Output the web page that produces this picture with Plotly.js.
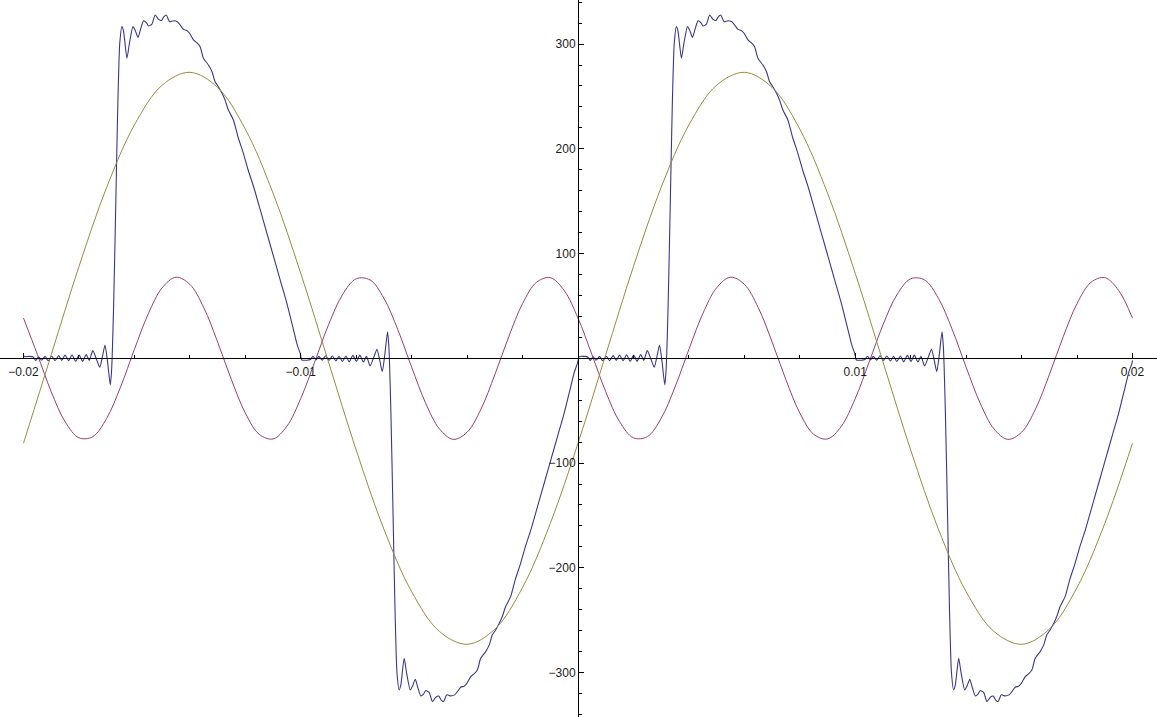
<!DOCTYPE html>
<html>
<head>
<meta charset="utf-8">
<script src="https://cdn.plot.ly/plotly-3.0.1.min.js"></script>
<style>
  html, body { margin: 0; padding: 0; background: #ffffff; }
  #chart { width: 1157px; height: 717px; }
</style>
</head>
<body>
<div id="chart"></div>
<script>
// ---- data ----
// olive curve (fundamental)
var oliveT = [-0.020, -0.019, -0.018, -0.017, -0.016, -0.015, -0.014, -0.013, -0.012, -0.011,
  -0.010, -0.009, -0.008, -0.007, -0.006, -0.005, -0.004, -0.003, -0.002, -0.001,
  0.000, 0.001, 0.002, 0.003, 0.004, 0.005, 0.006, 0.007, 0.008, 0.009,
  0.010, 0.011, 0.012, 0.013, 0.014, 0.015, 0.016, 0.017, 0.018, 0.019, 0.020];
var oliveV = [-81.1, 3.4, 87.6, 163.2, 222.8, 260.7, 273.0, 258.6, 218.8, 157.7,
  81.1, -3.4, -87.6, -163.2, -222.8, -260.7, -273.0, -258.6, -218.8, -157.7,
  -81.1, 3.4, 87.6, 163.2, 222.8, 260.7, 273.0, 258.6, 218.8, 157.7,
  81.1, -3.4, -87.6, -163.2, -222.8, -260.7, -273.0, -258.6, -218.8, -157.7, -81.1];

// purple curve (third harmonic)
var purpleT = [-0.0200, -0.0195, -0.0190, -0.0185, -0.0180, -0.0175, -0.0170, -0.0165, -0.0160, -0.0155,
  -0.0150, -0.0145, -0.0140, -0.0135, -0.0130, -0.0125, -0.0120, -0.0115, -0.0110, -0.0105,
  -0.0100, -0.0095, -0.0090, -0.0085, -0.0080, -0.0075, -0.0070, -0.0065, -0.0060, -0.0055,
  -0.0050, -0.0045, -0.0040, -0.0035, -0.0030, -0.0025, -0.0020, -0.0015, -0.0010, -0.0005,
  0.0000, 0.0005, 0.0010, 0.0015, 0.0020, 0.0025, 0.0030, 0.0035, 0.0040, 0.0045,
  0.0050, 0.0055, 0.0060, 0.0065, 0.0070, 0.0075, 0.0080, 0.0085, 0.0090, 0.0095,
  0.0100, 0.0105, 0.0110, 0.0115, 0.0120, 0.0125, 0.0130, 0.0135, 0.0140, 0.0145,
  0.0150, 0.0155, 0.0160, 0.0165, 0.0170, 0.0175, 0.0180, 0.0185, 0.0190, 0.0195, 0.0200];
var purpleV = [38.4, 3.7, -31.9, -60.5, -75.9, -74.8, -57.3, -27.4, 8.5, 42.5,
  67.3, 77.4, 70.6, 48.5, 15.7, -20.5, -52.2, -72.5, -77.0, -64.8,
  -38.4, -3.7, 31.9, 60.5, 75.9, 74.8, 57.3, 27.4, -8.5, -42.5,
  -67.3, -77.4, -70.6, -48.5, -15.7, 20.5, 52.2, 72.5, 77.0, 64.8,
  38.4, 3.7, -31.9, -60.5, -75.9, -74.8, -57.3, -27.4, 8.5, 42.5,
  67.3, 77.4, 70.6, 48.5, 15.7, -20.5, -52.2, -72.5, -77.0, -64.8,
  -38.4, -3.7, 31.9, 60.5, 75.9, 74.8, 57.3, 27.4, -8.5, -42.5,
  -67.3, -77.4, -70.6, -48.5, -15.7, 20.5, 52.2, 72.5, 77.0, 64.8, 38.4];

// blue curve (distorted current with ringing)
var blueT = [
  // lead-in ringing
  -0.02000, -0.01996, -0.01978, -0.01965, -0.01956, -0.01945, -0.01935, -0.01922, -0.01911, -0.01898,
  -0.01886, -0.01873, -0.01862, -0.01850, -0.01837, -0.01825, -0.01812, -0.01799, -0.01787, -0.01774,
  -0.01763, -0.01750, -0.01736, -0.01725, -0.01715, -0.01706, -0.01697, -0.01687,
  // first positive lobe + ringing
  -0.01682, -0.01675, -0.01667, -0.01660, -0.01653, -0.01645, -0.01639, -0.01627, -0.01618, -0.01605,
  -0.01597, -0.01587, -0.01577, -0.01567, -0.01557, -0.01549, -0.01537, -0.01525, -0.01513, -0.01502,
  -0.01494, -0.01485, -0.01473, -0.01459, -0.01445, -0.01435, -0.01423, -0.01411, -0.01401, -0.01387,
  -0.01375, -0.01363, -0.01351, -0.01333, -0.01320, -0.01309, -0.01297, -0.01284, -0.01273, -0.01261,
  -0.01243, -0.01226, -0.01207, -0.01190, -0.01170, -0.01146, -0.01122, -0.01098, -0.01074, -0.01050,
  -0.01026, -0.01013, -0.01002, -0.00996,
  -0.00978, -0.00965, -0.00956, -0.00945, -0.00935, -0.00922, -0.00911, -0.00898, -0.00886, -0.00873,
  -0.00862, -0.00850, -0.00837, -0.00825, -0.00812, -0.00799, -0.00787, -0.00774, -0.00763, -0.00750,
  -0.00736, -0.00725, -0.00715, -0.00706, -0.00697, -0.00687,
  // first negative lobe + ringing
  -0.00682, -0.00675, -0.00667, -0.00660, -0.00653, -0.00645, -0.00639, -0.00627, -0.00618, -0.00605,
  -0.00597, -0.00587, -0.00577, -0.00567, -0.00557, -0.00549, -0.00537, -0.00525, -0.00513, -0.00502,
  -0.00494, -0.00485, -0.00473, -0.00459, -0.00445, -0.00435, -0.00423, -0.00411, -0.00401, -0.00387,
  -0.00375, -0.00363, -0.00351, -0.00333, -0.00320, -0.00309, -0.00297, -0.00284, -0.00273, -0.00261,
  -0.00243, -0.00226, -0.00207, -0.00190, -0.00170, -0.00146, -0.00122, -0.00098, -0.00074, -0.00050,
  -0.00026, -0.00013, -0.00002, 0.00004,
  0.00022, 0.00035, 0.00044, 0.00055, 0.00065, 0.00078, 0.00089, 0.00102, 0.00114, 0.00127,
  0.00138, 0.00150, 0.00163, 0.00175, 0.00188, 0.00201, 0.00213, 0.00226, 0.00237, 0.00250,
  0.00264, 0.00275, 0.00285, 0.00294, 0.00303, 0.00313,
  // second positive lobe + ringing
  0.00318, 0.00325, 0.00333, 0.00340, 0.00347, 0.00355, 0.00361, 0.00373, 0.00382, 0.00395,
  0.00403, 0.00413, 0.00423, 0.00433, 0.00443, 0.00451, 0.00463, 0.00475, 0.00487, 0.00498,
  0.00506, 0.00515, 0.00527, 0.00541, 0.00555, 0.00565, 0.00577, 0.00589, 0.00599, 0.00613,
  0.00625, 0.00637, 0.00649, 0.00667, 0.00680, 0.00691, 0.00703, 0.00716, 0.00727, 0.00739,
  0.00757, 0.00774, 0.00793, 0.00810, 0.00830, 0.00854, 0.00878, 0.00902, 0.00926, 0.00950,
  0.00974, 0.00987, 0.00998, 0.01004,
  0.01022, 0.01035, 0.01044, 0.01055, 0.01065, 0.01078, 0.01089, 0.01102, 0.01114, 0.01127,
  0.01138, 0.01150, 0.01163, 0.01175, 0.01188, 0.01201, 0.01213, 0.01226, 0.01237, 0.01250,
  0.01264, 0.01275, 0.01285, 0.01294, 0.01303, 0.01313,
  // second negative lobe
  0.01318, 0.01325, 0.01333, 0.01340, 0.01347, 0.01355, 0.01361, 0.01373, 0.01382, 0.01395,
  0.01403, 0.01413, 0.01423, 0.01433, 0.01443, 0.01451, 0.01463, 0.01475, 0.01487, 0.01498,
  0.01506, 0.01515, 0.01527, 0.01541, 0.01555, 0.01565, 0.01577, 0.01589, 0.01599, 0.01613,
  0.01625, 0.01637, 0.01649, 0.01667, 0.01680, 0.01691, 0.01703, 0.01716, 0.01727, 0.01739,
  0.01757, 0.01774, 0.01793, 0.01810, 0.01830, 0.01854, 0.01878, 0.01902, 0.01926, 0.01950,
  0.01974, 0.01987, 0.01998, 0.02000
];
var blueV = [
  // lead-in ringing
  3, 1.6, 1.8, 1.2, -2.0, 1.5, -1.8, 1.8, -2.4, 2.0,
  -2.2, 2.6, -2.0, 3.0, -2.2, 3.4, -2.8, 3.0, -3.0, 3.6,
  -2.0, 7.3, -1.5, -8.6, 2, 12.7, -3, -25.4,
  // first positive lobe + ringing
  -10, 50, 150, 240, 300, 316.6, 311.8, 286.4, 300.7, 316.6,
  313, 306.4, 315, 322.3, 320.5, 317.2, 319, 327.7, 323.6, 322.5,
  326, 327.7, 321.3, 322.3, 321.3, 318.2, 314, 313, 310.3, 303.9,
  301.3, 297.5, 286.4, 280, 273.6, 264, 259.3, 253, 246.5, 237,
  227.5, 211, 195.7, 180, 163.8, 141.6, 119.3, 97, 74.7, 52.5,
  27, 13, 4.8, -1.6,
  -1.8, -1.2, 2.0, -1.5, 1.8, -1.8, 2.4, -2.0, 2.2, -2.6,
  2.0, -3.0, 2.2, -3.4, 2.8, -3.0, 3.0, -3.6, 2.0, -7.3,
  1.5, 8.6, -2, -12.7, 3, 25.4,
  // first negative lobe + ringing
  10, -50, -150, -240, -300, -316.6, -311.8, -286.4, -300.7, -316.6,
  -313, -306.4, -315, -322.3, -320.5, -317.2, -319, -327.7, -323.6, -322.5,
  -326, -327.7, -321.3, -322.3, -321.3, -318.2, -314, -313, -310.3, -303.9,
  -301.3, -297.5, -286.4, -280, -273.6, -264, -259.3, -253, -246.5, -237,
  -227.5, -211, -195.7, -180, -163.8, -141.6, -119.3, -97, -74.7, -52.5,
  -27, -13, -4.8, 1.6,
  1.8, 1.2, -2.0, 1.5, -1.8, 1.8, -2.4, 2.0, -2.2, 2.6,
  -2.0, 3.0, -2.2, 3.4, -2.8, 3.0, -3.0, 3.6, -2.0, 7.3,
  -1.5, -8.6, 2, 12.7, -3, -25.4,
  // second positive lobe + ringing
  -10, 50, 150, 240, 300, 316.6, 311.8, 286.4, 300.7, 316.6,
  313, 306.4, 315, 322.3, 320.5, 317.2, 319, 327.7, 323.6, 322.5,
  326, 327.7, 321.3, 322.3, 321.3, 318.2, 314, 313, 310.3, 303.9,
  301.3, 297.5, 286.4, 280, 273.6, 264, 259.3, 253, 246.5, 237,
  227.5, 211, 195.7, 180, 163.8, 141.6, 119.3, 97, 74.7, 52.5,
  27, 13, 4.8, -1.6,
  -1.8, -1.2, 2.0, -1.5, 1.8, -1.8, 2.4, -2.0, 2.2, -2.6,
  2.0, -3.0, 2.2, -3.4, 2.8, -3.0, 3.0, -3.6, 2.0, -7.3,
  1.5, 8.6, -2, -12.7, 3, 25.4,
  // second negative lobe
  10, -50, -150, -240, -300, -316.6, -311.8, -286.4, -300.7, -316.6,
  -313, -306.4, -315, -322.3, -320.5, -317.2, -319, -327.7, -323.6, -322.5,
  -326, -327.7, -321.3, -322.3, -321.3, -318.2, -314, -313, -310.3, -303.9,
  -301.3, -297.5, -286.4, -280, -273.6, -264, -259.3, -253, -246.5, -237,
  -227.5, -211, -195.7, -180, -163.8, -141.6, -119.3, -97, -74.7, -52.5,
  -27, -13, -4.8, -2
];

// axis ticks
var xTickVals = [-0.02, -0.01, 0.01, 0.02];
var xTickText = ["\u22120.02", "\u22120.01", "0.01", "0.02"];
var yTickVals = [-300, -200, -100, 100, 200, 300];
var yTickText = ["\u2212300", "\u2212200", "\u2212100", "100", "200", "300"];

// ---- chart ----
var xRange = [-0.020848, 0.020884];
var yRange = [-342.43, 342.05];

var traces = [
  { x: blueT, y: blueV, type: 'scatter', mode: 'lines',
    line: { color: '#38388a', width: 1.1, shape: 'spline', smoothing: 0.6 }, hoverinfo: 'skip' },
  { x: purpleT, y: purpleV, type: 'scatter', mode: 'lines',
    line: { color: '#993d71', width: 1, shape: 'spline', smoothing: 1 }, hoverinfo: 'skip' },
  { x: oliveT, y: oliveV, type: 'scatter', mode: 'lines',
    line: { color: '#998b3d', width: 1, shape: 'spline', smoothing: 1 }, hoverinfo: 'skip' }
];

var tickFont = { family: 'Liberation Sans, Arial, sans-serif', size: 12, color: '#1a1a1a' };

var layout = {
  width: 1157, height: 717,
  margin: { l: 0, r: 0, t: 0, b: 0, pad: 0 },
  paper_bgcolor: '#ffffff', plot_bgcolor: '#ffffff',
  showlegend: false,
  xaxis: {
    range: xRange, anchor: 'free',
    position: (0 - yRange[0]) / (yRange[1] - yRange[0]),
    showgrid: false, zeroline: false,
    showline: true, linecolor: '#000000', linewidth: 1,
    tickmode: 'array', tickvals: xTickVals, ticktext: xTickText,
    ticks: 'inside', ticklen: 5, tickwidth: 1, tickcolor: '#000000',
    tickfont: tickFont, ticklabelstandoff: 2,
    minor: { ticks: 'inside', ticklen: 3, tickwidth: 1, tickcolor: '#000000',
             tickmode: 'linear', tick0: 0, dtick: 0.002, showgrid: false }
  },
  yaxis: {
    range: yRange, anchor: 'free',
    position: (0 - xRange[0]) / (xRange[1] - xRange[0]),
    showgrid: false, zeroline: false,
    showline: true, linecolor: '#000000', linewidth: 1,
    tickmode: 'array', tickvals: yTickVals, ticktext: yTickText,
    ticks: 'inside', ticklen: 5, tickwidth: 1, tickcolor: '#000000',
    tickfont: tickFont,
    minor: { ticks: 'inside', ticklen: 2.5, tickwidth: 1, tickcolor: '#000000',
             tickmode: 'linear', tick0: 0, dtick: 20, showgrid: false }
  }
};

Plotly.newPlot('chart', traces, layout, { displayModeBar: false, staticPlot: true });
</script>
</body>
</html>
